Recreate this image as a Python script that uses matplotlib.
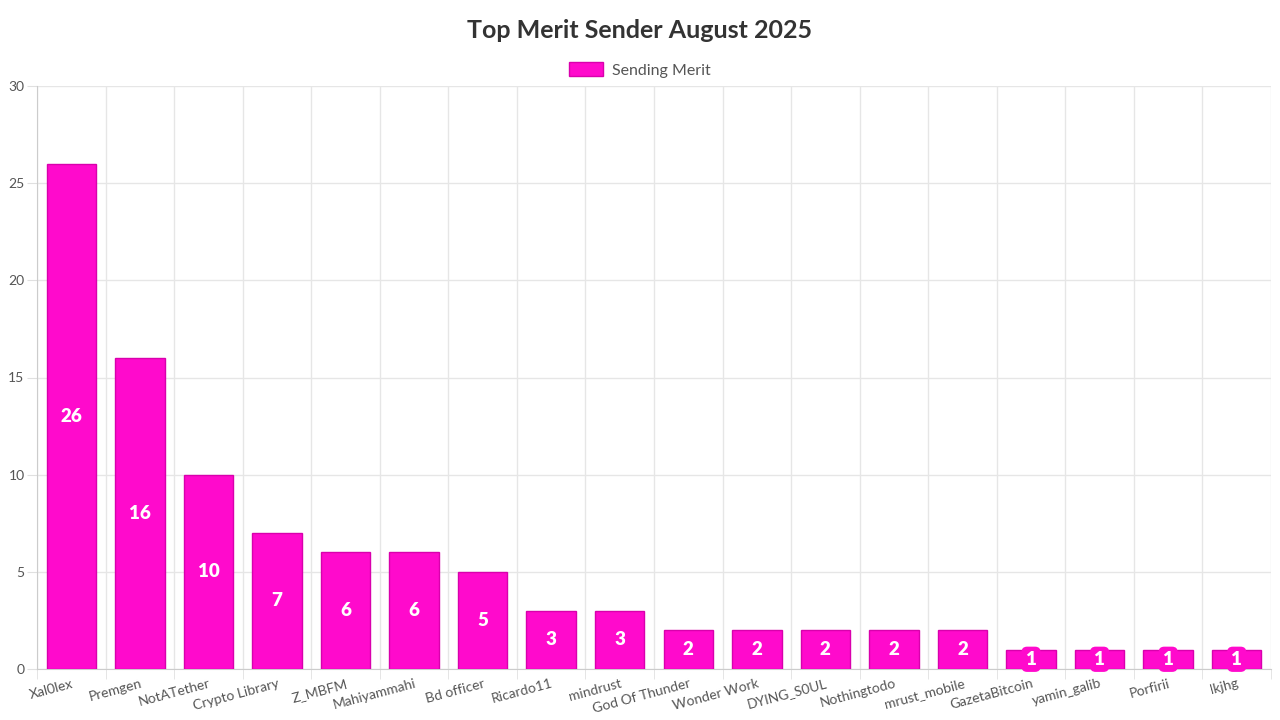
import matplotlib.pyplot as plt
import numpy as np

plt.rcParams['font.family'] = ['Lato', 'DejaVu Sans']

senders = ['Xal0lex', 'Premgen', 'NotATether', 'Crypto Library', 'Z_MBFM', 'Mahiyammahi',
           'Bd officer', 'Ricardo11', 'mindrust', 'God Of Thunder', 'Wonder Work', 'DYING_S0UL',
           'Nothingtodo', 'mrust_mobile', 'GazetaBitcoin', 'yamin_galib', 'Porfirii', 'lkjhg']
merit = [26, 16, 10, 7, 6, 6, 5, 3, 3, 2, 2, 2, 2, 2, 1, 1, 1, 1]

fill = '#ff0acc'
edge = '#d900ad'

fig = plt.figure(figsize=(12.8, 7.2), dpi=100)
ax = fig.add_axes([37/1280, 1-669/720, (1271-37)/1280, (669-86)/720])

x = np.arange(len(senders))
ax.bar(x, merit, width=0.72, color=fill, edgecolor=edge, linewidth=1, label='Sending Merit', zorder=3)

# value labels in the middle of each bar
for xi, v in zip(x, merit):
    ax.text(xi, v/2, str(v), ha='center', va='center', color='white', fontsize=13.5,
            fontweight='heavy', zorder=4,
            bbox=dict(boxstyle='round,pad=0.22,rounding_size=0.3', fc=fill, ec='none'))

ax.set_xlim(-0.5, len(senders)-0.5)
ax.set_ylim(0, 30)
ax.set_yticks(range(0, 31, 5))
ax.set_xticks(x)
ax.set_xticklabels(senders, rotation=15, ha='right', rotation_mode='anchor')
ax.set_xticks(np.arange(-0.5, len(senders), 1), minor=True)

ax.grid(True, which='major', axis='y', color='#e6e6e6', linewidth=1, zorder=0)
ax.grid(True, which='minor', axis='x', color='#e6e6e6', linewidth=1, zorder=0)
ax.tick_params(axis='x', which='major', length=0, labelsize=10, colors='#555555', pad=6)
ax.tick_params(axis='x', which='minor', length=7, color='#e0e0e0')
ax.tick_params(axis='y', length=7, color='#e0e0e0', labelsize=10, labelcolor='#555555', pad=2)

for s in ['top', 'right']:
    ax.spines[s].set_visible(False)
ax.spines['left'].set_color('#cccccc')
ax.spines['bottom'].set_color('#cccccc')

fig.text(0.5, 1-31/720, 'Top Merit Sender August 2025', ha='center', va='center',
         fontsize=18, fontweight='bold', color='#333333')
fig.legend(loc='center', bbox_to_anchor=(0.5, 1-70/720), frameon=False, fontsize=11.5,
           handlelength=2.1, handleheight=1.0, handletextpad=0.6, labelcolor='#555555')

fig.savefig('out.png', dpi=100)
